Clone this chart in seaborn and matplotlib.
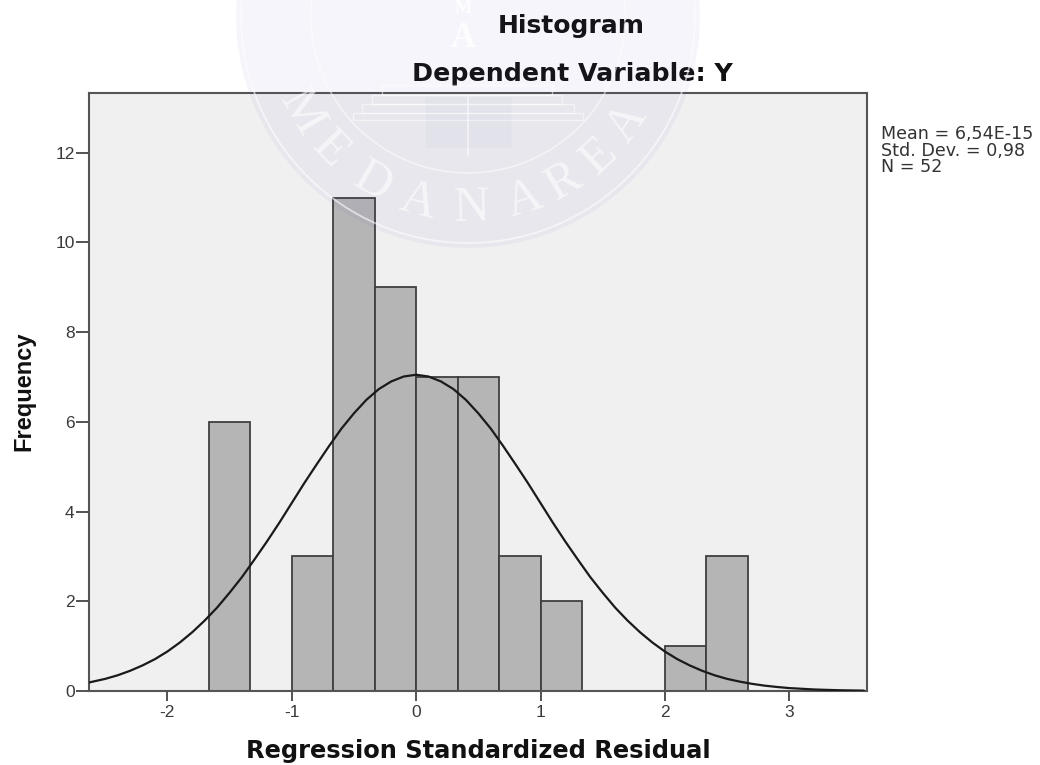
import numpy as np
import pandas as pd
import matplotlib
matplotlib.use("Agg")
import matplotlib.pyplot as plt
from matplotlib.patches import Circle, Rectangle
import seaborn as sns

bin_edges = [-1.6667, -1.3333, -1.0, -0.6667, -0.3333, 0.0, 0.3333, 0.6667, 1.0, 1.3333, 1.6667, 2.0, 2.3333, 2.6667]
bin_counts = [6, 0, 3, 11, 9, 7, 7, 3, 2, 0, 0, 1, 3]
curve_x = [-2.63, -2.5, -2.4, -2.3, -2.2, -2.1, -2.0, -1.9, -1.8, -1.7, -1.6, -1.5, -1.4, -1.3, -1.2, -1.1, -1.0,
           -0.9, -0.8, -0.7, -0.6, -0.5, -0.4, -0.3, -0.2, -0.1, 0.0, 0.1, 0.2, 0.3, 0.4, 0.5, 0.6, 0.7, 0.8, 0.9,
           1.0, 1.1, 1.2, 1.3, 1.4, 1.5, 1.6, 1.7, 1.8, 1.9, 2.0, 2.1, 2.2, 2.3, 2.4, 2.5, 2.6, 2.7, 2.8, 2.9, 3.0,
           3.2, 3.4, 3.6]
curve_y = [0.19, 0.27, 0.35, 0.45, 0.57, 0.71, 0.88, 1.08, 1.31, 1.57, 1.86, 2.19, 2.54, 2.93, 3.33, 3.75, 4.19,
           4.63, 5.05, 5.46, 5.85, 6.19, 6.49, 6.73, 6.90, 7.01, 7.05, 7.01, 6.90, 6.73, 6.49, 6.19, 5.85, 5.46, 5.05, 4.63,
           4.19, 3.75, 3.33, 2.93, 2.54, 2.19, 1.86, 1.57, 1.31, 1.08, 0.88, 0.71, 0.57, 0.45, 0.35, 0.27, 0.21, 0.16, 0.12, 0.09, 0.065,
           0.034, 0.017, 0.008]
x_ticks = [-2, -1, 0, 1, 2, 3]
x_tick_labels = ["-2", "-1", "0", "1", "2", "3"]
y_ticks = [0, 2, 4, 6, 8, 10, 12]
stats_lines = ["Mean = 6,54E-15", "Std. Dev. = 0,98", "N = 52"]
watermark = "MEDANAREA"

W, H = 1040, 765
sns.set_theme(style="ticks")
plt.rcParams["font.family"] = ["Liberation Sans", "DejaVu Sans"]
fig = plt.figure(figsize=(W / 100, H / 100), dpi=100, facecolor="white")
ax = fig.add_axes([89 / W, 1 - 691 / H, (867 - 89) / W, (691 - 93) / H])
ax.set_facecolor("#F0F0F0")

centers = [(a + b) / 2 for a, b in zip(bin_edges[:-1], bin_edges[1:])]
hist_df = pd.DataFrame({"x": centers, "n": bin_counts})
sns.histplot(data=hist_df, x="x", weights="n", bins=bin_edges, color="#B5B5B5", alpha=1,
             edgecolor="#3F3F3F", linewidth=1.3, ax=ax, zorder=2)
for p in ax.patches:
    if p.get_height() == 0:
        p.set_visible(False)
sns.lineplot(x=curve_x, y=curve_y, color="#1A1A1A", linewidth=1.6, ax=ax, zorder=3, errorbar=None, sort=False)

ax.set_xlim(-2.63, 3.625)
ax.set_ylim(0, 13.33)
ax.set_xticks(x_ticks)
ax.set_xticklabels(x_tick_labels)
ax.set_yticks(y_ticks)
ax.tick_params(axis="x", length=7.2, width=1.3, color="#444444", labelsize=12.5, labelcolor="#3A3A3A", pad=3)
ax.tick_params(axis="y", length=9.4, width=1.3, color="#444444", labelsize=12.5, labelcolor="#3A3A3A", pad=1)
for s in ax.spines.values():
    s.set_visible(True)
    s.set_color("#555555")
    s.set_linewidth(1.5)
ax.set_xlabel("")
ax.set_ylabel("")

fig.text(478 / W, 1 - 758 / H, "Regression Standardized Residual", fontsize=17.4, fontweight="bold",
         family="DejaVu Sans", color="#111111", ha="center", va="baseline")
fig.text(24 / W, 1 - 391 / H, "Frequency", fontsize=17, fontweight="bold", color="#111111",
         rotation=90, ha="center", va="center")
fig.text(571 / W, 1 - 33 / H, "Histogram", fontsize=18, fontweight="bold", family="DejaVu Sans",
         color="#111111", ha="center", va="baseline")
fig.text(572 / W, 1 - 81 / H, "Dependent Variable: Y", fontsize=18.2, fontweight="bold", family="DejaVu Sans",
         color="#111111", ha="center", va="baseline")
for line, yp in zip(stats_lines, [134, 151, 167]):
    fig.text(881 / W, 1 - yp / H, line, fontsize=12.6, family="DejaVu Sans", color="#333333", ha="left", va="center")

# faint university seal watermark over everything
wm = fig.add_axes([0, 0, 1, 1], zorder=10)
wm.set_xlim(0, W)
wm.set_ylim(H, 0)
wm.axis("off")
wm.patch.set_alpha(0)
cx, cy = 468, 16
tint = (0.30, 0.30, 0.72)
wm.add_patch(Circle((cx, cy), 232, facecolor=tint, alpha=0.05, edgecolor="none"))
wm.add_patch(Circle((cx, cy), 227, fill=False, edgecolor="white", alpha=0.6, linewidth=1.3))
wm.add_patch(Circle((cx, cy), 157, fill=False, edgecolor="white", alpha=0.5, linewidth=1.3))
for left, top, right, bottom in [(353, 113, 583, 120), (362, 104, 574, 113), (372, 95, 562, 104), (382, 85, 552, 95)]:
    wm.add_patch(Rectangle((left, top), right - left, bottom - top, fill=False, edgecolor="white", alpha=0.55, linewidth=1.0))
wm.add_patch(Rectangle((425, 97), 86, 50, facecolor=tint, alpha=0.03, edgecolor="white", linewidth=1.0))
wm.plot([cx, cx], [97, 156], color="white", alpha=0.6, linewidth=1.2)
wm.text(463, 38, "A", fontsize=25, color="white", alpha=0.9, family="Liberation Serif", fontweight="bold", ha="center", va="center")
wm.text(463, 8, "M", fontsize=13, color="white", alpha=0.9, family="Liberation Serif", fontweight="bold", ha="center", va="center")
angles = [60, 46, 30, 15, -1, -17, -30, -43, -56]
for ch, deg in zip(watermark, angles):
    a = np.deg2rad(deg)
    wm.text(cx - 192 * np.sin(a), cy + 192 * np.cos(a), ch, fontsize=36, color="white", alpha=0.6,
            family="Liberation Serif", rotation=-deg, rotation_mode="anchor", ha="center", va="center")

fig.savefig("out.png", dpi=100)
